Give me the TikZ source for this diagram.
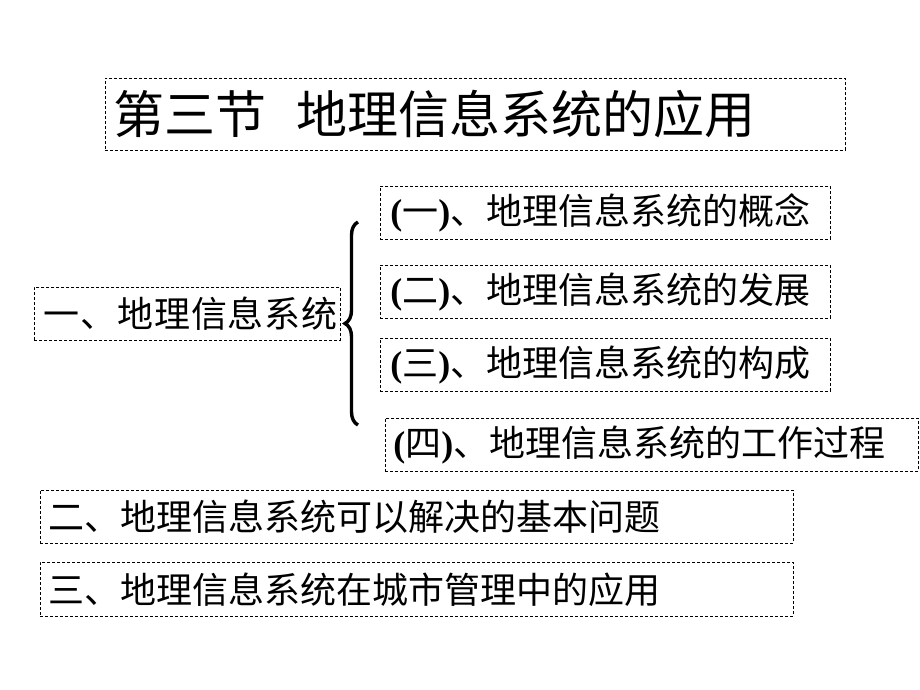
\documentclass[tikz,border=0pt]{standalone}
\usepackage{fontspec}
\setmainfont{Liberation Serif}
\newfontfamily\cjk{Noto Sans CJK SC}
\newfontfamily\cjkwide[LetterSpace=2.5]{Noto Sans CJK SC}
\usetikzlibrary{positioning,decorations.pathreplacing}
\tikzset{
  dashbox/.style={draw, dash pattern=on 3pt off 2pt, line width=0.9pt, anchor=north west,
                  inner xsep=8pt, inner ysep=0pt, align=left, minimum height=53pt},
  titlebox/.style={dashbox, minimum height=72pt, font=\fontsize{51}{56}\selectfont\cjk},
  itembox/.style={dashbox, font=\fontsize{36}{40}\selectfont},
  bracket/.style={decorate, decoration={brace, amplitude=13pt}, line width=3.4pt},
}
\newcommand{\gisitem}[2]{\textbf{(}{\cjk #1}\textbf{)}{\cjk 、#2}}

\begin{document}
\begin{tikzpicture}[x=1pt,y=-1pt]
  \useasboundingbox (0,0) rectangle (920,690);
  % title
  \node[titlebox, text width=724pt] (title) at (105,78) {第三节\hspace{0.58em}地理信息系统的应用};
  % part one and its sub items
  \node[itembox, inner xsep=9pt, text width=288pt] (part1) at (34,287) {\cjkwide 一、地理信息系统};
  \node[itembox, inner xsep=10pt, text width=430pt] (sub1) at (380,186) {\gisitem{一}{地理信息系统的概念}};
  \node[itembox, inner xsep=10pt, text width=430pt] (sub2) at (380,265) {\gisitem{二}{地理信息系统的发展}};
  \node[itembox, inner xsep=10pt, text width=430pt] (sub3) at (380,338) {\gisitem{三}{地理信息系统的构成}};
  \node[itembox, text width=517pt] (sub4) at (385,418) {\gisitem{四}{地理信息系统的工作过程}};
  \coordinate (bbot) at (358,425);
  \coordinate (btop) at (358,222);
  \draw[bracket] (bbot) -- (btop);
  % parts two and three
  \node[itembox, text width=737pt] (part2) at (40,490) {\cjk 二、地理信息系统可以解决的基本问题};
  \node[itembox, text width=737pt, minimum height=54pt] (part3) at (40,562) {\cjk 三、地理信息系统在城市管理中的应用};
\end{tikzpicture}
\end{document}
